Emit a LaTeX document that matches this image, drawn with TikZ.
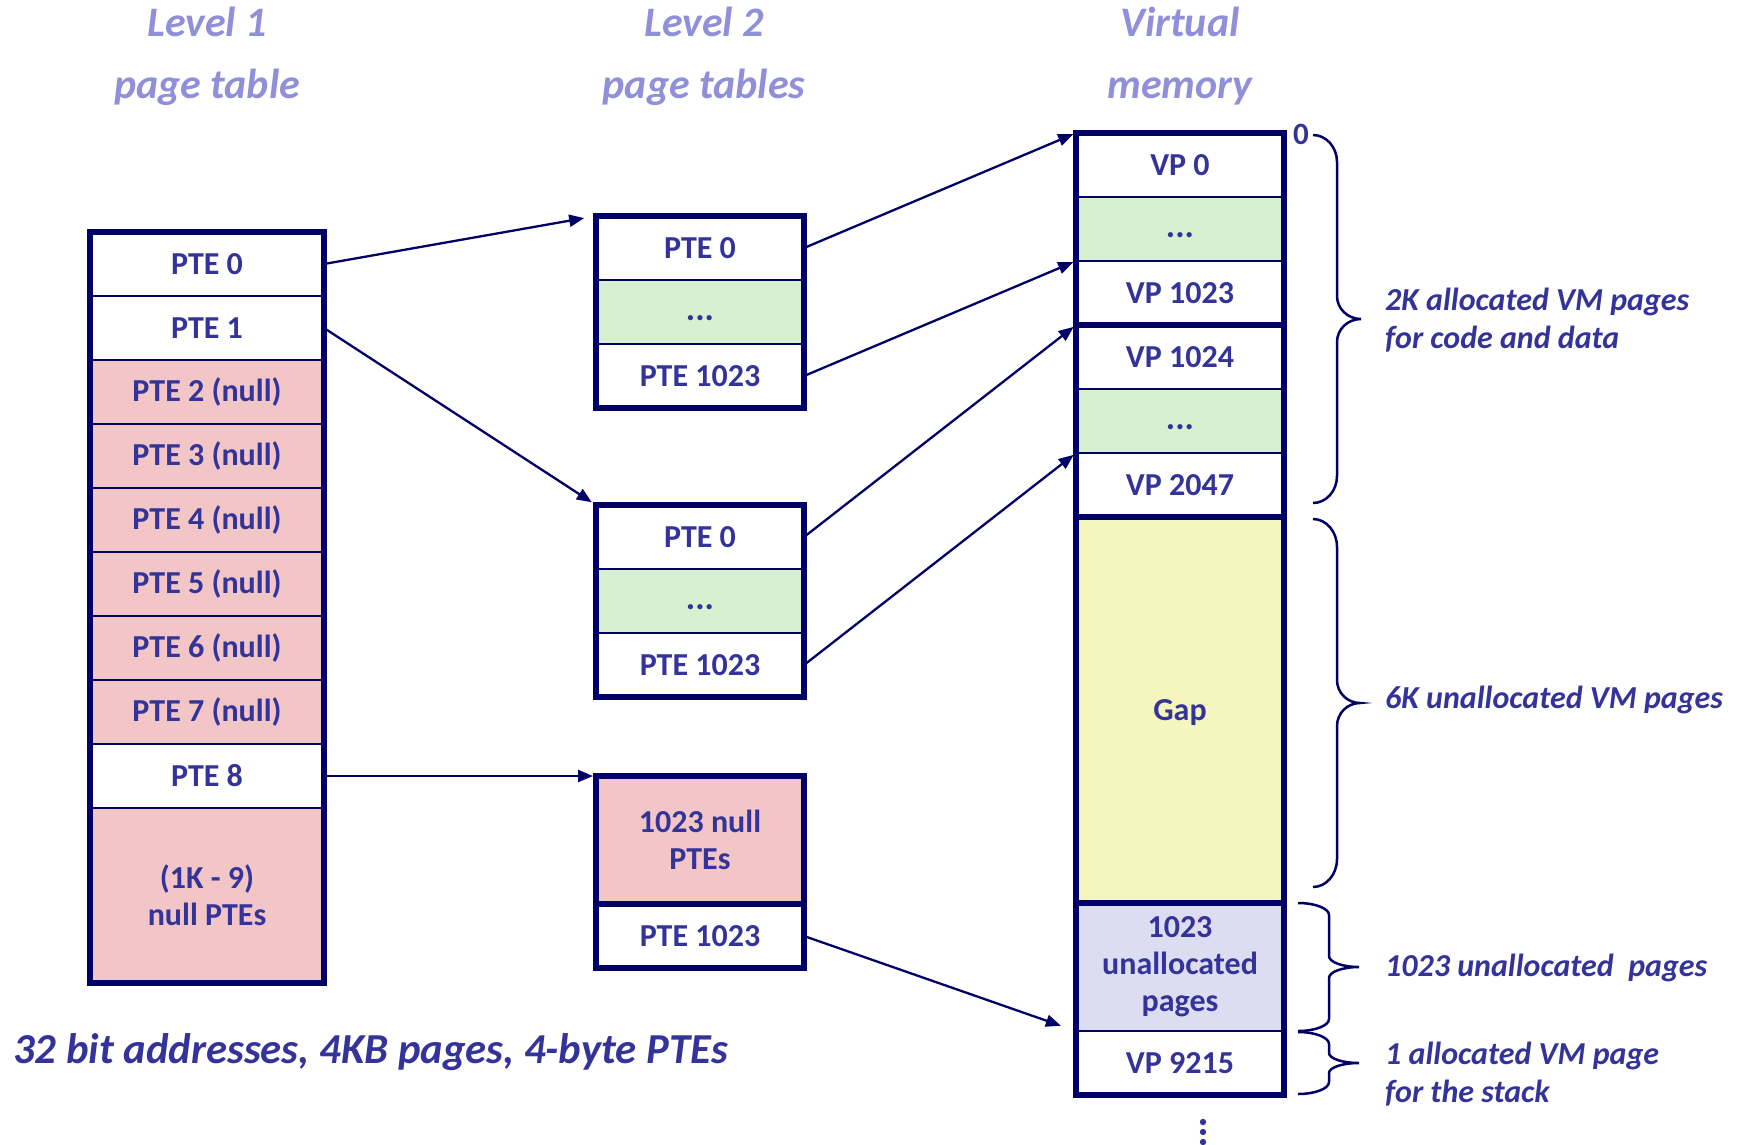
\documentclass[tikz,border=0pt]{standalone}
\usepackage{fontspec}
\setmainfont{Carlito}
\usetikzlibrary{arrows.meta}
\definecolor{navy}{RGB}{0,0,102}
\definecolor{txt}{RGB}{51,51,153}
\definecolor{ttl}{RGB}{143,143,218}
\definecolor{pinkc}{RGB}{242,198,198}
\definecolor{greenc}{RGB}{214,240,208}
\definecolor{yellowc}{RGB}{245,245,190}
\definecolor{lavc}{RGB}{221,221,242}
\newcommand\cellfont{\fontsize{32}{37}\selectfont\bfseries}
\newcommand\lblfont{\fontsize{32}{38}\selectfont\bfseries\itshape}
\newcommand\ttlfont{\fontsize{42}{50}\selectfont\bfseries\itshape}
\newcommand\capfont{\fontsize{42.7}{50}\selectfont\bfseries\itshape}
% e v t a b r q
\newcommand\vmbrace[7]{%
  \pgfmathsetmacro\bm{(#4+#5)/2}%
  \draw[bracest] (#1,#4) .. controls ({#1+0.552*(#2-#1)},#4) and (#2,{#4+#6-0.552*#6}) .. (#2,{#4+#6})
    -- (#2,{\bm-#7}) .. controls (#2,{\bm-#7+0.552*#7}) and ({#3-0.552*(#3-#2)},\bm) .. (#3,\bm)
    .. controls ({#3-0.552*(#3-#2)},\bm) and (#2,{\bm+#7-0.552*#7}) .. (#2,{\bm+#7})
    -- (#2,{#5-#6}) .. controls (#2,{#5-#6+0.552*#6}) and ({#1+0.552*(#2-#1)},#5) .. (#1,#5);}
\begin{document}
\begin{tikzpicture}[x=1pt,y=-1pt,
  cell/.style={rectangle, draw=navy, line width=2.5pt, inner sep=0pt, outer sep=0pt,
    text=txt, font=\cellfont, align=center, fill=white},
  l1/.style={cell, minimum width=234pt, minimum height=64pt},
  l2/.style={cell, minimum width=208pt, minimum height=64pt},
  vm/.style={cell, minimum width=208pt, minimum height=64pt},
  dotcell/.style={fill=greenc, font=\fontsize{35}{37}\selectfont\bfseries, text height=16pt, text depth=0pt},
  border/.style={draw=navy, line width=6pt},
  thicksep/.style={draw=navy, line width=6pt},
  arr/.style={draw=navy, line width=2.3pt, -{Triangle[length=15pt,width=12pt]}},
  bracest/.style={draw=navy, line width=2.5pt},
  lbl/.style={text=txt, font=\lblfont, align=left, inner sep=0pt},
  ttlst/.style={text=ttl, font=\ttlfont, inner sep=0pt},
]
\useasboundingbox (0,0) rectangle (1743,1144);

% titles
\node[ttlst, anchor=base] (ta1) at (207,36) {Level 1};
\node[ttlst, anchor=base] (ta2) at (207,98) {page table};
\node[ttlst, anchor=base] (tb1) at (704,36) {Level 2};
\node[ttlst, anchor=base] (tb2) at (704,98) {page tables};
\node[ttlst, anchor=base] (tc1) at (1180,36) {Virtual};
\node[ttlst, anchor=base] (tc2) at (1180,98) {memory};

% level 1 page table
\node[l1] (l1p0) at (207,264) {PTE 0};
\node[l1] (l1p1) at (207,328) {PTE 1};
\node[l1,fill=pinkc] (l1p2) at (207,392) {PTE 2 (null)};
\node[l1,fill=pinkc] (l1p3) at (207,456) {PTE 3 (null)};
\node[l1,fill=pinkc] (l1p4) at (207,520) {PTE 4 (null)};
\node[l1,fill=pinkc] (l1p5) at (207,584) {PTE 5 (null)};
\node[l1,fill=pinkc] (l1p6) at (207,648) {PTE 6 (null)};
\node[l1,fill=pinkc] (l1p7) at (207,712) {PTE 7 (null)};
\node[l1] (l1p8) at (207,776) {PTE 8};
\node[l1,fill=pinkc,minimum height=175pt] (l1rest) at (207,895.5) {(1K - 9)\\null PTEs};
\draw[border] (l1p0.north west) rectangle (l1rest.south east);

% level 2 page tables
\node[l2] (t1p0) at (700,248) {PTE 0};
\node[l2,dotcell] (t1d) at (700,312) {...};
\node[l2] (t1p1023) at (700,376) {PTE 1023};
\draw[border] (t1p0.north west) rectangle (t1p1023.south east);

\node[l2] (t2p0) at (700,537) {PTE 0};
\node[l2,dotcell] (t2d) at (700,601) {...};
\node[l2] (t2p1023) at (700,665) {PTE 1023};
\draw[border] (t2p0.north west) rectangle (t2p1023.south east);

\node[l2,fill=pinkc,minimum height=128pt] (t3n) at (700,840) {1023 null\\PTEs};
\node[l2] (t3p1023) at (700,936) {PTE 1023};
\draw[thicksep] (t3n.south west) -- (t3n.south east);
\draw[border] (t3n.north west) rectangle (t3p1023.south east);

% virtual memory
\node[vm] (vp0) at (1180,165) {VP 0};
\node[vm,dotcell] (vd1) at (1180,229) {...};
\node[vm] (vp1023) at (1180,293) {VP 1023};
\node[vm] (vp1024) at (1180,357) {VP 1024};
\node[vm,dotcell] (vd2) at (1180,421) {...};
\node[vm] (vp2047) at (1180,485) {VP 2047};
\node[vm,fill=yellowc,minimum height=386pt,text depth=0pt] (gap) at (1180,710) {Gap};
\node[vm,fill=lavc,minimum height=128pt] (unal) at (1180,967) {1023\\unallocated\\pages};
\node[vm] (vp9215) at (1180,1063) {VP 9215};
\draw[thicksep] (vp1023.south west) -- (vp1023.south east);
\draw[thicksep] (vp2047.south west) -- (vp2047.south east);
\draw[thicksep] (gap.south west) -- (gap.south east);
\draw[border] (vp0.north west) rectangle (vp9215.south east);

% arrows
\draw[arr, shorten >=12pt] (l1p0.east) -- (t1p0.north west);
\draw[arr, shorten >=5pt] (l1p1.east) -- (t2p0.north west);
\draw[arr, shorten >=3pt] (l1p8.east) -- (t3n.north west);
\draw[arr, shorten >=3pt] (t1p0.east) -- (vp0.north west);
\draw[arr, shorten >=3pt] (t1p1023.east) -- (vp1023.north west);
\draw[arr, shorten >=3pt] (t2p0.east) -- (vp1024.north west);
\draw[arr, shorten >=3pt] (t2p1023.east) -- (vp2047.north west);
\draw[arr, shorten >=16pt] (t3p1023.east) -- (vp9215.north west);

% "0" and braces
\node[text=txt, font=\fontsize{31}{33}\selectfont\bfseries, inner sep=0pt] (zero) at (1301,134) {0};
\vmbrace{1313}{1337}{1361}{135}{503}{27}{23}
\vmbrace{1313}{1337}{1360}{519}{887}{28}{23}
\vmbrace{1298}{1329}{1359}{903}{1031}{12}{11}
\vmbrace{1298}{1329}{1359}{1032}{1094}{12}{10}

% brace labels
\node[lbl, anchor=west] (lab1) at (1385,320) {2K allocated VM pages\\for code and data};
\node[lbl, anchor=west] (lab2) at (1385,700) {6K unallocated VM pages};
\node[lbl, anchor=west] (lab3) at (1385,968) {1023 unallocated\ \ pages};
\node[lbl, anchor=west] (lab4) at (1385,1074) {1 allocated VM page\\for the stack};

% caption
\node[text=txt, font=\capfont, inner sep=0pt, anchor=base west] (cap) at (13,1063) {32 bit addresses, 4KB pages, 4-byte PTEs};

% continuation dots
\fill[txt] (1203,1122) circle (3.2pt);
\fill[txt] (1203,1132) circle (3.2pt);
\fill[txt] (1203,1142) circle (3.2pt);
\end{tikzpicture}
\end{document}
